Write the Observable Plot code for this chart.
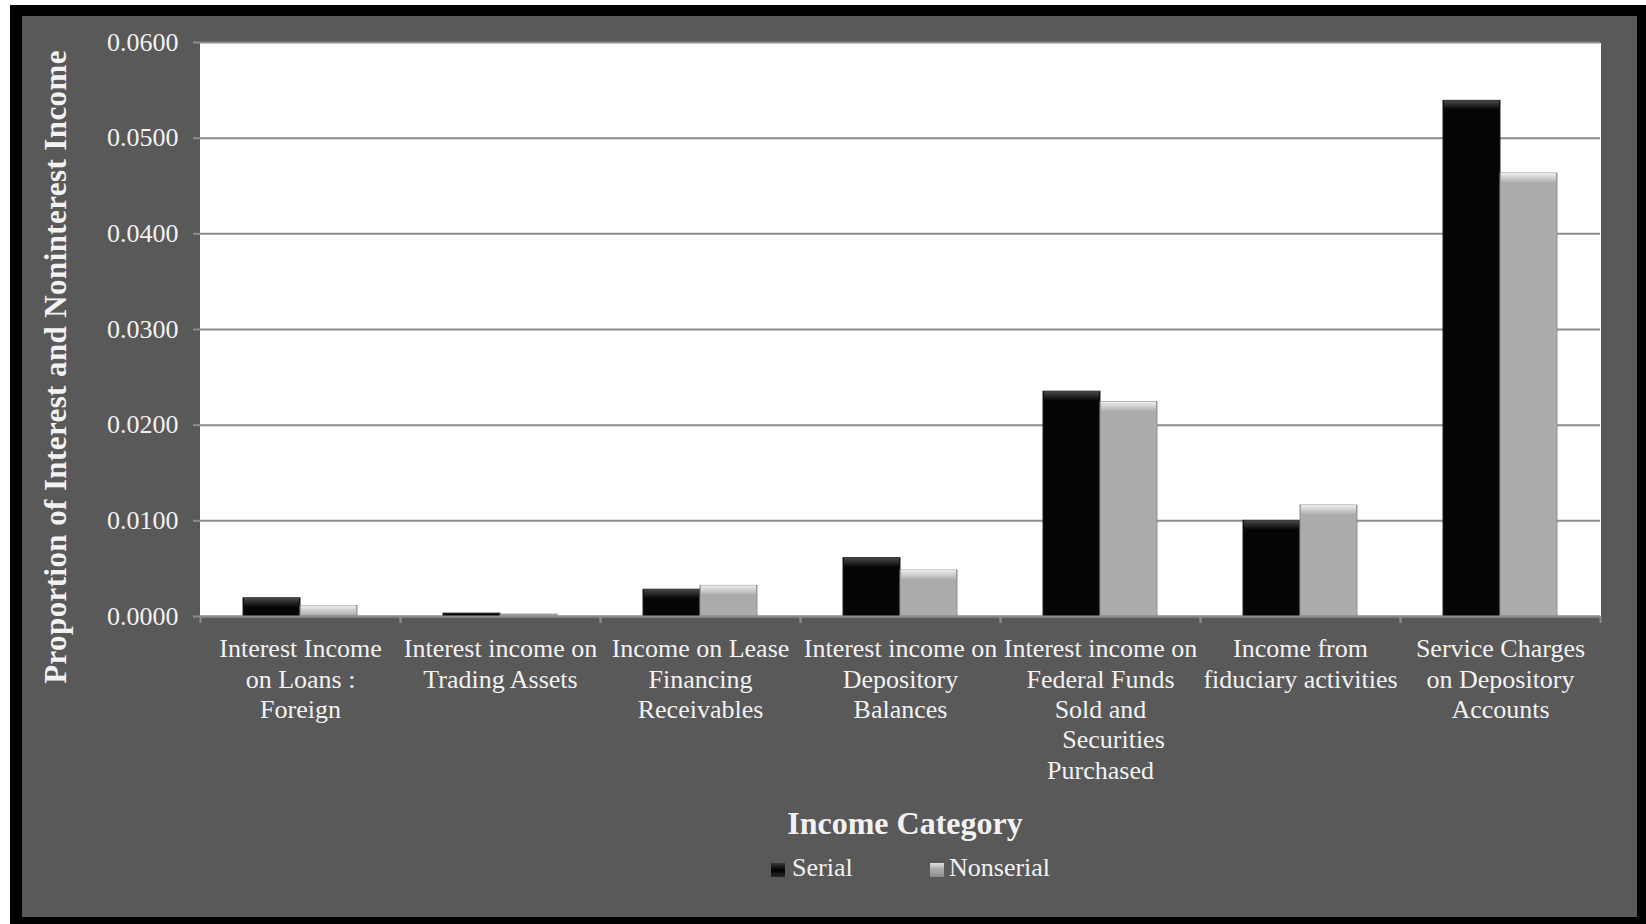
<!DOCTYPE html>
<html><head><meta charset="utf-8">
<script src="https://cdn.jsdelivr.net/npm/d3@7"></script>
<script src="https://cdn.jsdelivr.net/npm/@observablehq/plot@0.6"></script>
<style>
html,body{margin:0;padding:0;background:#fff;}
body{width:1646px;height:924px;overflow:hidden;position:relative;font-family:"Liberation Serif","Times New Roman",serif;}
#outer{position:absolute;left:10px;top:5px;width:1636px;height:919px;background:#000;}
#inner{position:absolute;left:22px;top:16px;width:1615px;height:901px;background:#595959;}
#chart{position:absolute;left:0;top:0;}
.t{position:absolute;color:#f2f2f2;white-space:nowrap;}
#ytitle{left:33px;top:351px;font-size:31px;line-height:31px;letter-spacing:0.4px;font-weight:bold;transform:translate(-50%,-50%) rotate(-90deg);}
#xtitle{left:883px;top:791px;font-size:32px;line-height:32px;font-weight:bold;transform:translateX(-50%);}
.sw{position:absolute;width:14px;height:14px;top:847px;}
.lg{top:839px;font-size:26px;line-height:26px;}
</style>
</head><body>
<div id="outer"></div>
<div id="inner">
  <div id="chart"></div>
  <div class="t" id="ytitle">Proportion of Interest and Noninterest Income</div>
  <div class="t" id="xtitle">Income Category</div>
  <div class="sw" id="sw0" style="left:749px;background:linear-gradient(#3a3a3a,#050505 45%,#050505 55%,#2a2a2a);"></div>
  <div class="t lg" id="lg0" style="left:770px;"></div>
  <div class="sw" id="sw1" style="left:908px;background:linear-gradient(#e2e2e2,#a8a8a8 45%,#a8a8a8 55%,#8a8a8a);"></div>
  <div class="t lg" id="lg1" style="left:927px;"></div>
</div>
<script>
const categories = [
  "Interest Income on Loans : Foreign",
  "Interest income on Trading Assets",
  "Income on Lease Financing Receivables",
  "Interest income on Depository Balances",
  "Interest income on Federal Funds Sold and Securities Purchased",
  "Income from fiduciary activities",
  "Service Charges on Depository Accounts"
];
const tickLabels = [
  "Interest Income\non Loans :\nForeign",
  "Interest income on\nTrading Assets",
  "Income on Lease\nFinancing\nReceivables",
  "Interest income on\nDepository\nBalances",
  "Interest income on\nFederal Funds\nSold and\n\u00a0\u00a0\u00a0\u00a0Securities\nPurchased",
  "Income from\nfiduciary activities",
  "Service Charges\non Depository\nAccounts"
];
const series = ["Serial", "Nonserial"];
const serialValues    = [0.0019, 0.0003, 0.0028, 0.0061, 0.0235, 0.0100, 0.0539];
const nonserialValues = [0.0011, 0.0002, 0.0032, 0.0048, 0.0224, 0.0116, 0.0463];
const yTicks = [0, 0.01, 0.02, 0.03, 0.04, 0.05, 0.06];
const seriesColors = ["#050505", "#ababab"];

document.getElementById("lg0").textContent = series[0];
document.getElementById("lg1").textContent = series[1];

const table = [];
categories.forEach((c, i) => {
  table.push({category: c, series: series[0], value: serialValues[i]});
  table.push({category: c, series: series[1], value: nonserialValues[i]});
});
const labelOf = new Map(categories.map((c, i) => [c, tickLabels[i]]));
const bevel = table.filter(d => d.value > 0.001);

const gridColor = "#8c8c8c";
const chart = Plot.plot({
  width: 1615,
  height: 780,
  marginLeft: 178,
  marginRight: 37,
  marginTop: 26,
  marginBottom: 180,
  style: {fontFamily: "'Liberation Serif','Times New Roman',serif", fontSize: "26px", color: "#f2f2f2", background: "transparent", overflow: "visible"},
  fx: {domain: categories, padding: 0, axis: null},
  x: {domain: series, paddingInner: 0, paddingOuter: 0.754, axis: null},
  y: {domain: [0, 0.06], axis: null},
  color: {domain: series, range: seriesColors},
  marks: [
    Plot.frame({fill: "white", stroke: "none", insetLeft: -0.5, insetRight: -0.5, shapeRendering: "crispEdges"}),
    Plot.gridY(yTicks, {stroke: gridColor, strokeOpacity: 1, strokeWidth: 2}),
    Plot.barY(table, {fx: "category", x: "series", y: "value", fill: "series",
      stroke: d => d.series === series[0] ? "#1e1e1e" : "#8e8e8e", strokeWidth: 1}),
    Plot.barY(bevel.filter(d => d.series === series[0]), {fx: "category", x: "series", y1: "value", y2: "value",
      insetBottom: -9, insetLeft: 1, insetRight: 1, fill: "url(#bevS)"}),
    Plot.barY(bevel.filter(d => d.series === series[1]), {fx: "category", x: "series", y1: "value", y2: "value",
      insetBottom: -9, insetLeft: 1, insetRight: 1, fill: "url(#bevN)"}),
    Plot.ruleY([0], {stroke: gridColor, strokeWidth: 2}),
    Plot.axisY(yTicks, {tickFormat: d3.format(".4f"), tickSize: 7, tickPadding: 15, stroke: gridColor,
      strokeWidth: 2, fill: "#f2f2f2", fontSize: 26, label: null, line: true}),
    Plot.axisFx({anchor: "bottom", tickFormat: c => labelOf.get(c), tickSize: 0, tickPadding: 19, fontSize: 26,
      lineHeight: 1.17, fill: "#f2f2f2", label: null}),
    Plot.axisFx({anchor: "bottom", tickFormat: () => "", tickSize: 7, dx: -100, stroke: gridColor, strokeWidth: 2, label: null}),
    Plot.axisFx({anchor: "bottom", tickFormat: () => "", tickSize: 7, dx: 100, stroke: gridColor, strokeWidth: 2, label: null})
  ]
});
chart.insertAdjacentHTML("afterbegin",
  '<defs>' +
  '<linearGradient id="bevS" x1="0" y1="0" x2="0" y2="1"><stop offset="0" stop-color="#4a4a4a"/><stop offset="1" stop-color="#080808"/></linearGradient>' +
  '<linearGradient id="bevN" x1="0" y1="0" x2="0" y2="1"><stop offset="0" stop-color="#eeeeee"/><stop offset="1" stop-color="#b2b2b2"/></linearGradient>' +
  '</defs>');
document.getElementById("chart").appendChild(chart);
</script>
</body></html>
